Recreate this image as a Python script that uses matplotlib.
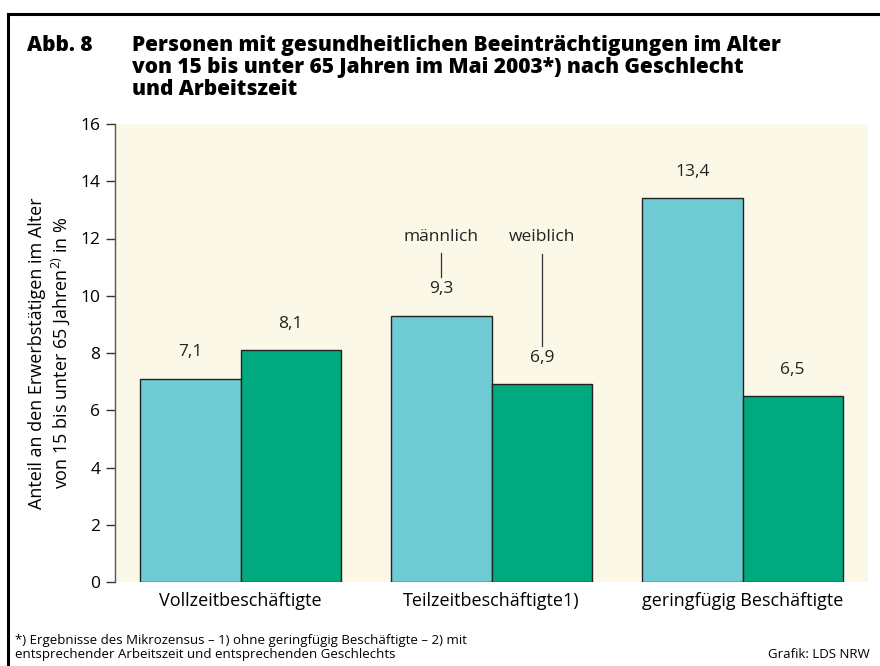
"""Abb. 8: Personen mit gesundheitlichen Beeinträchtigungen nach Geschlecht und Arbeitszeit"""
import numpy as np
import matplotlib.pyplot as plt
from matplotlib.lines import Line2D

# Daten
kategorien = ['Vollzeitbeschäftigte', 'Teilzeitbeschäftigte1)', 'geringfügig Beschäftigte']
maennlich = [7.1, 9.3, 13.4]
weiblich = [8.1, 6.9, 6.5]
y_ticks = [0, 2, 4, 6, 8, 10, 12, 14, 16]

plt.rcParams['font.family'] = ['Open Sans', 'DejaVu Sans']
plt.rcParams['mathtext.fontset'] = 'custom'
plt.rcParams['mathtext.rm'] = 'Open Sans'

W, H = 880, 666
fig = plt.figure(figsize=(W / 100, H / 100), dpi=100)


def fx(px):
    return px / W


def fy(py):
    return 1 - py / H


# Rahmen oben und links
fig.add_artist(Line2D([fx(8), 1.0], [fy(14), fy(14)], color='black', lw=2.2))
fig.add_artist(Line2D([fx(8), fx(8)], [fy(14), 0.0], color='black', lw=2.2))

# Titel
fig.text(fx(27), fy(35), 'Abb. 8', fontsize=15, fontweight='heavy', va='top', ha='left')
fig.text(fx(132), fy(35),
         'Personen mit gesundheitlichen Beeinträchtigungen im Alter\n'
         'von 15 bis unter 65 Jahren im Mai 2003*) nach Geschlecht\n'
         'und Arbeitszeit',
         fontsize=15, fontweight='heavy', va='top', ha='left', linespacing=1.06)

ax = fig.add_axes([fx(115), fy(582), fx(868) - fx(115), fy(124) - fy(582)])
ax.set_facecolor('#fcf8e8')

x = np.arange(len(kategorien))
width = 0.4
c_m = '#6ecbd3'
c_w = '#00aa7e'

bars_m = ax.bar(x - width / 2, maennlich, width, color=c_m, edgecolor='#222222', linewidth=1)
bars_w = ax.bar(x + width / 2, weiblich, width, color=c_w, edgecolor='#222222', linewidth=1)

for bars, vals in [(bars_m, maennlich), (bars_w, weiblich)]:
    for bar, v in zip(bars, vals):
        ax.annotate(f'{v:.1f}'.replace('.', ','),
                    (bar.get_x() + bar.get_width() / 2, v),
                    xytext=(0, 19), textcoords='offset points',
                    ha='center', va='center', fontsize=12.5, color='#222222')

# Legende als Beschriftung an den Teilzeit-Säulen
xm = x[1] - width / 2
xw = x[1] + width / 2
ax.annotate('männlich', (xm, maennlich[1]), xytext=(0, 57), textcoords='offset points',
            ha='center', va='center', fontsize=12.5, color='#222222')
ax.plot([xm, xm], [maennlich[1] + 1.37, maennlich[1] + 2.2], color='#333333', lw=0.9)
ax.annotate('weiblich', (xw, weiblich[1]), xytext=(0, 106), textcoords='offset points',
            ha='center', va='center', fontsize=12.5, color='#222222')
ax.plot([xw, xw], [weiblich[1] + 1.33, weiblich[1] + 4.55], color='#333333', lw=0.9)

ax.set_xlim(-0.5, 2.5)
ax.set_ylim(0, 16)
ax.set_yticks(y_ticks)
ax.set_xticks(x)
ax.set_xticklabels(kategorien, fontsize=13)
ax.tick_params(axis='x', length=0, pad=7)
ax.tick_params(axis='y', length=6.5, width=1, pad=4, labelsize=12.5, color='#333333')

for s in ['top', 'right', 'bottom']:
    ax.spines[s].set_visible(False)
ax.spines['left'].set_color('#555555')
ax.spines['left'].set_linewidth(1)

ax.set_ylabel('Anteil an den Erwerbstätigen im Alter\n'
              'von 15 bis unter 65 Jahren$^{\\mathrm{2)}}$ in %',
              fontsize=13, linespacing=1.2, labelpad=6)

# Fußnote
fig.text(fx(15), fy(647.5),
         '*) Ergebnisse des Mikrozensus – 1) ohne geringfügig Beschäftigte – 2) mit\n'
         'entsprechender Arbeitszeit und entsprechenden Geschlechts',
         fontsize=9.5, va='center', ha='left', linespacing=1.1)
fig.text(fx(870), fy(655), 'Grafik: LDS NRW', fontsize=9.5, va='center', ha='right')

plt.savefig('out.png', dpi=100)
plt.close()
